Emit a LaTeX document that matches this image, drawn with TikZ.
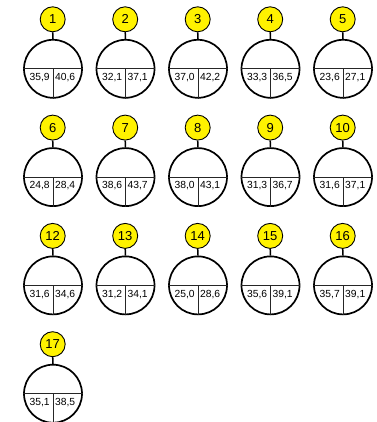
\documentclass[tikz,border=0pt]{standalone}
\usepackage{fontspec}
\setmainfont{Liberation Sans}
\tikzset{
  tag/.style={circle,draw=black,line width=0.9pt,fill=yellow,minimum size=25pt,inner sep=0pt,font=\fontsize{13}{14}\selectfont},
  body/.style={circle,draw=black,line width=1.7pt,minimum size=58pt,inner sep=0pt},
  stem/.style={draw=black,line width=1.5pt},
  divider/.style={draw=black!85,line width=0.9pt},
  val/.style={font=\fontsize{10.3}{11}\selectfont,inner sep=0pt}
}
\newcommand{\cellunit}[5]{%
  \node[tag] (t#3) at (#1,#2) {#3};
  \node[body] (b#3) at (#1+0.3,#2-49.5) {};
  \draw[stem] (t#3.south) -- (b#3.north);
  \draw[divider] (b#3.west) -- (b#3.east);
  \draw[divider] (b#3.center) -- (b#3.south);
  \node[val] (l#3) at (#1-13,#2-58.3) {#4};
  \node[val] (r#3) at (#1+12.5,#2-58.3) {#5};
}
\begin{document}
\begin{tikzpicture}[x=1pt,y=1pt]
\useasboundingbox (0,0) rectangle (376,-422);
\cellunit{52.7}{-19.3}{1}{35,9}{40,6}
\cellunit{125.2}{-19.3}{2}{32,1}{37,1}
\cellunit{197.7}{-19.3}{3}{37,0}{42,2}
\cellunit{270.2}{-19.3}{4}{33,3}{36,5}
\cellunit{342.7}{-19.3}{5}{23,6}{27,1}
\cellunit{52.7}{-127.6}{6}{24,8}{28,4}
\cellunit{125.2}{-127.6}{7}{38,6}{43,7}
\cellunit{197.7}{-127.6}{8}{38,0}{43,1}
\cellunit{270.2}{-127.6}{9}{31,3}{36,7}
\cellunit{342.7}{-127.6}{10}{31,6}{37,1}
\cellunit{52.7}{-235.9}{12}{31,6}{34,6}
\cellunit{125.2}{-235.9}{13}{31,2}{34,1}
\cellunit{197.7}{-235.9}{14}{25,0}{28,6}
\cellunit{270.2}{-235.9}{15}{35,6}{39,1}
\cellunit{342.7}{-235.9}{16}{35,7}{39,1}
\cellunit{52.7}{-344.2}{17}{35,1}{38,5}
\end{tikzpicture}
\end{document}
